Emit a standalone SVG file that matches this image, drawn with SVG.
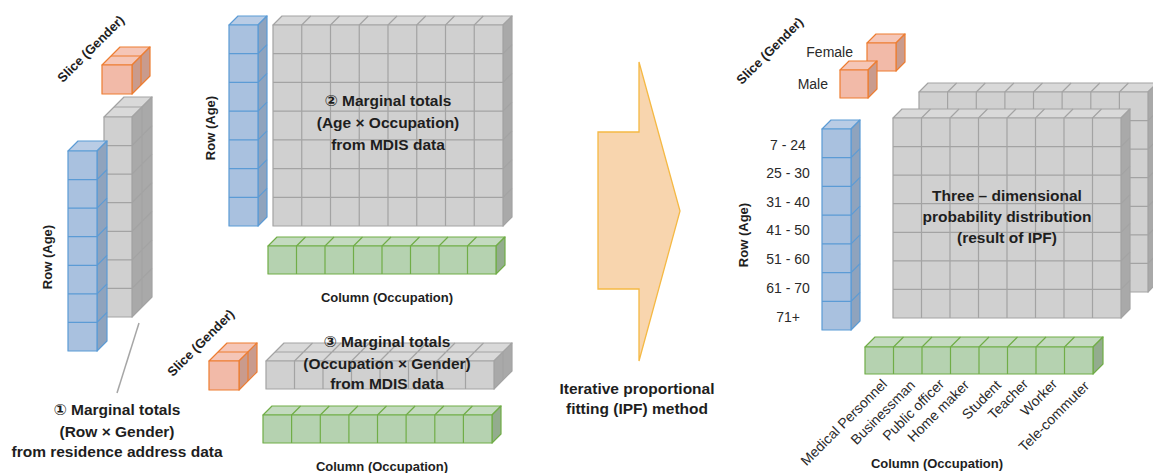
<svg xmlns="http://www.w3.org/2000/svg" width="1153" height="473" viewBox="0 0 1153 473">
<style>
  .cube{stroke-width:1.2;stroke-linejoin:round}
  .cube path{fill:none}
  .blue{stroke:#5B9BD5}
  .blue .f{fill:#A9C1DF}.blue .t{fill:#B9CCE5}.blue .s{fill:#8FA3BD}
  .gray{stroke:#A3A3A3}
  .gray .f{fill:#D0D0D0}.gray .t{fill:#D9D9D9}.gray .s{fill:#A9A9A9}
  .green{stroke:#70AD47}
  .green .f{fill:#B5D2B0}.green .t{fill:#C3DABF}.green .s{fill:#93AC8E}
  .orange{stroke:#ED7D31}
  .orange .f{fill:#F2BAA8}.orange .t{fill:#F5C6B7}.orange .s{fill:#C99B8D}
  text{font-family:"Liberation Sans","DejaVu Sans",Arial,sans-serif;fill:#1E1E1E;stroke:none}
  .lbl{font-size:15.5px;font-weight:bold;text-anchor:middle}
  .axis{font-size:13px;font-weight:bold;text-anchor:middle}
  .tick{font-size:14px;text-anchor:middle;fill:#2A2A2A}
  .occ{font-size:14px;text-anchor:end;fill:#2A2A2A}
</style>

<!-- connectors: leader line and the IPF arrow -->
<g id="connectors">
  <line x1="139" y1="323" x2="117" y2="393" stroke="#A6A6A6" stroke-width="1.5"/>
  <polygon id="ipf-arrow" points="639,62 639,132 598,132 598,289 639,289 639,361 680,211" fill="#F8D5AE" stroke="#F5B944" stroke-width="1.3"/>
  <text class="lbl" x="637" y="394">Iterative proportional</text>
  <text class="lbl" x="637" y="414">fitting (IPF) method</text>
</g>

<!-- (1) Row x Gender marginal totals -->
<g id="slice-gender-1" class="cube orange">
  <polygon class="t" points="102,65 120,47 150,47 132,65"/>
  <polygon class="s" points="132,65 150,47 150,76 132,94"/>
  <rect class="f" x="102" y="65" width="30" height="29"/>
  <path d="M111 56h30M141 56v29"/>
</g>
<text class="axis" transform="translate(94,52) rotate(-45)">Slice (Gender)</text>

<g id="row-gender-totals" class="cube gray">
  <polygon class="t" points="104,117 124,97 152,97 132,117"/>
  <polygon class="s" points="132,117 152,97 152,297 132,317"/>
  <rect class="f" x="104" y="117" width="28" height="200"/>
  <path d="M114 107h28M142 107v200M104 145.6h28l20 -20M104 174.1h28l20 -20M104 202.7h28l20 -20M104 231.3h28l20 -20M104 259.9h28l20 -20M104 288.4h28l20 -20"/>
</g>

<g id="row-age-1" class="cube blue">
  <polygon class="t" points="68,151 78,141 107,141 97,151"/>
  <polygon class="s" points="97,151 107,141 107,341 97,351"/>
  <rect class="f" x="68" y="151" width="29" height="200"/>
  <path d="M68 179.6h29l10 -10M68 208.1h29l10 -10M68 236.7h29l10 -10M68 265.3h29l10 -10M68 293.9h29l10 -10M68 322.4h29l10 -10"/>
</g>
<text class="axis" transform="translate(52,257) rotate(-90)">Row (Age)</text>

<g id="label-1">
  <text class="lbl" x="117" y="415">① Marginal totals</text>
  <text class="lbl" x="117" y="437">(Row × Gender)</text>
  <text class="lbl" x="117" y="457">from residence address data</text>
</g>

<!-- (2) Age x Occupation marginal totals -->
<g id="row-age-2" class="cube blue">
  <polygon class="t" points="229,25 238,16 267,16 258,25"/>
  <polygon class="s" points="258,25 267,16 267,217 258,226"/>
  <rect class="f" x="229" y="25" width="29" height="201"/>
  <path d="M229 53.7h29l9 -9M229 82.4h29l9 -9M229 111.1h29l9 -9M229 139.9h29l9 -9M229 168.6h29l9 -9M229 197.3h29l9 -9"/>
</g>
<text class="axis" transform="translate(215,128) rotate(-90)">Row (Age)</text>

<g id="age-occupation-totals" class="cube gray">
  <polygon class="t" points="273,25 282,16 512,16 503,25"/>
  <polygon class="s" points="503,25 512,16 512,217 503,226"/>
  <rect class="f" x="273" y="25" width="230" height="201"/>
  <path d="M273 53.7h230l9 -9M273 82.4h230l9 -9M273 111.1h230l9 -9M273 139.9h230l9 -9M273 168.6h230l9 -9M273 197.3h230l9 -9
           M301.75 226V25l9 -9M330.5 226V25l9 -9M359.25 226V25l9 -9M388 226V25l9 -9M416.75 226V25l9 -9M445.5 226V25l9 -9M474.25 226V25l9 -9"/>
  <text class="lbl" x="388" y="106">② Marginal totals</text>
  <text class="lbl" x="388" y="128">(Age × Occupation)</text>
  <text class="lbl" x="388" y="150">from MDIS data</text>
</g>

<g id="column-occupation-1" class="cube green">
  <polygon class="t" points="268,246 277,237 505,237 496,246"/>
  <polygon class="s" points="496,246 505,237 505,265 496,274"/>
  <rect class="f" x="268" y="246" width="228" height="28"/>
  <path d="M296.5 274V246l9 -9M325 274V246l9 -9M353.5 274V246l9 -9M382 274V246l9 -9M410.5 274V246l9 -9M439 274V246l9 -9M467.5 274V246l9 -9"/>
</g>
<text class="axis" x="387" y="302">Column (Occupation)</text>

<!-- (3) Occupation x Gender marginal totals -->
<g id="slice-gender-2" class="cube orange">
  <polygon class="t" points="209,361 227,343 257,343 239,361"/>
  <polygon class="s" points="239,361 257,343 257,372 239,390"/>
  <rect class="f" x="209" y="361" width="30" height="29"/>
  <path d="M218 352h30M248 352v29"/>
</g>
<text class="axis" transform="translate(204,346) rotate(-45)">Slice (Gender)</text>

<g id="occupation-gender-totals" class="cube gray">
  <polygon class="t" points="266,361 284,343 512,343 494,361"/>
  <polygon class="s" points="494,361 512,343 512,371 494,389"/>
  <rect class="f" x="266" y="361" width="228" height="28"/>
  <path d="M275 352h228M503 352v28M294.5 389V361l18 -18M323 389V361l18 -18M351.5 389V361l18 -18M380 389V361l18 -18M408.5 389V361l18 -18M437 389V361l18 -18M465.5 389V361l18 -18"/>
  <text class="lbl" x="387" y="347">③ Marginal totals</text>
  <text class="lbl" x="387" y="369">(Occupation × Gender)</text>
  <text class="lbl" x="387" y="389">from MDIS data</text>
</g>

<g id="column-occupation-2" class="cube green">
  <polygon class="t" points="263,415 272,406 501,406 492,415"/>
  <polygon class="s" points="492,415 501,406 501,434 492,443"/>
  <rect class="f" x="263" y="415" width="229" height="28"/>
  <path d="M291.6 443V415l9 -9M320.3 443V415l9 -9M348.9 443V415l9 -9M377.5 443V415l9 -9M406.1 443V415l9 -9M434.8 443V415l9 -9M463.4 443V415l9 -9"/>
</g>
<text class="axis" x="382" y="471">Column (Occupation)</text>

<!-- Result: three-dimensional distribution -->
<g id="slice-gender-3">
  <g class="cube orange">
    <polygon class="t" points="867,43 876,34 905,34 896,43"/>
    <polygon class="s" points="896,43 905,34 905,62 896,71"/>
    <rect class="f" x="867" y="43" width="29" height="28"/>
  </g>
  <g class="cube orange">
    <polygon class="t" points="840,70 849,61 877,61 868,70"/>
    <polygon class="s" points="868,70 877,61 877,89 868,98"/>
    <rect class="f" x="840" y="70" width="28" height="28"/>
  </g>
  <text class="tick" x="853" y="57" style="text-anchor:end">Female</text>
  <text class="tick" x="828" y="89" style="text-anchor:end">Male</text>
  <text class="axis" transform="translate(773,54) rotate(-45)">Slice (Gender)</text>
</g>

<g id="distribution" class="cube gray">
  <!-- rear slice -->
  <polygon class="t" points="919,92 928,83 1157,83 1148,92"/>
  <polygon class="s" points="1148,92 1157,83 1157,283 1148,292"/>
  <rect class="f" x="919" y="92" width="229" height="200"/>
  <path d="M919 120.6h229l9 -9M919 149.1h229l9 -9M919 177.7h229l9 -9M919 206.3h229l9 -9M919 234.9h229l9 -9M919 263.4h229l9 -9
           M947.6 292V92l9 -9M976.3 292V92l9 -9M1004.9 292V92l9 -9M1033.5 292V92l9 -9M1062.1 292V92l9 -9M1090.8 292V92l9 -9M1119.4 292V92l9 -9"/>
  <!-- front slice -->
  <polygon class="t" points="893,118 902,109 1130,109 1121,118"/>
  <polygon class="s" points="1121,118 1130,109 1130,309 1121,318"/>
  <rect class="f" x="893" y="118" width="228" height="200"/>
  <path d="M893 146.6h228l9 -9M893 175.1h228l9 -9M893 203.7h228l9 -9M893 232.3h228l9 -9M893 260.9h228l9 -9M893 289.4h228l9 -9
           M921.5 318V118l9 -9M950 318V118l9 -9M978.5 318V118l9 -9M1007 318V118l9 -9M1035.5 318V118l9 -9M1064 318V118l9 -9M1092.5 318V118l9 -9"/>
  <text class="lbl" x="1007" y="201">Three – dimensional</text>
  <text class="lbl" x="1007" y="222">probability distribution</text>
  <text class="lbl" x="1007" y="243">(result of IPF)</text>
</g>

<g id="row-age-3">
  <g class="cube blue">
    <polygon class="t" points="822,129 831,120 860,120 851,129"/>
    <polygon class="s" points="851,129 860,120 860,321 851,330"/>
    <rect class="f" x="822" y="129" width="29" height="201"/>
    <path d="M822 157.7h29l9 -9M822 186.4h29l9 -9M822 215.1h29l9 -9M822 243.9h29l9 -9M822 272.6h29l9 -9M822 301.3h29l9 -9"/>
  </g>
  <text class="tick" x="788" y="150">7 - 24</text>
  <text class="tick" x="788" y="178">25 - 30</text>
  <text class="tick" x="788" y="207">31 - 40</text>
  <text class="tick" x="788" y="235">41 - 50</text>
  <text class="tick" x="788" y="264">51 - 60</text>
  <text class="tick" x="788" y="293">61 - 70</text>
  <text class="tick" x="788" y="322">71+</text>
  <text class="axis" transform="translate(748,235) rotate(-90)">Row (Age)</text>
</g>

<g id="column-occupation-3">
  <g class="cube green">
    <polygon class="t" points="865,347 875,337 1103,337 1093,347"/>
    <polygon class="s" points="1093,347 1103,337 1103,364 1093,374"/>
    <rect class="f" x="865" y="347" width="228" height="27"/>
    <path d="M893.5 374V347l10 -10M922 374V347l10 -10M950.5 374V347l10 -10M979 374V347l10 -10M1007.5 374V347l10 -10M1036 374V347l10 -10M1064.5 374V347l10 -10"/>
  </g>
  <text class="occ" transform="translate(888,385) rotate(-45)">Medical Personnel</text>
  <text class="occ" transform="translate(916,386) rotate(-45)">Businessman</text>
  <text class="occ" transform="translate(945,385) rotate(-45)">Public officer</text>
  <text class="occ" transform="translate(970,386) rotate(-45)">Home maker</text>
  <text class="occ" transform="translate(1002,386) rotate(-45)">Student</text>
  <text class="occ" transform="translate(1029,385) rotate(-45)">Teacher</text>
  <text class="occ" transform="translate(1058,385) rotate(-45)">Worker</text>
  <text class="occ" transform="translate(1090,387) rotate(-45)">Tele-commuter</text>
  <text class="axis" x="937" y="468">Column (Occupation)</text>
</g>
</svg>
